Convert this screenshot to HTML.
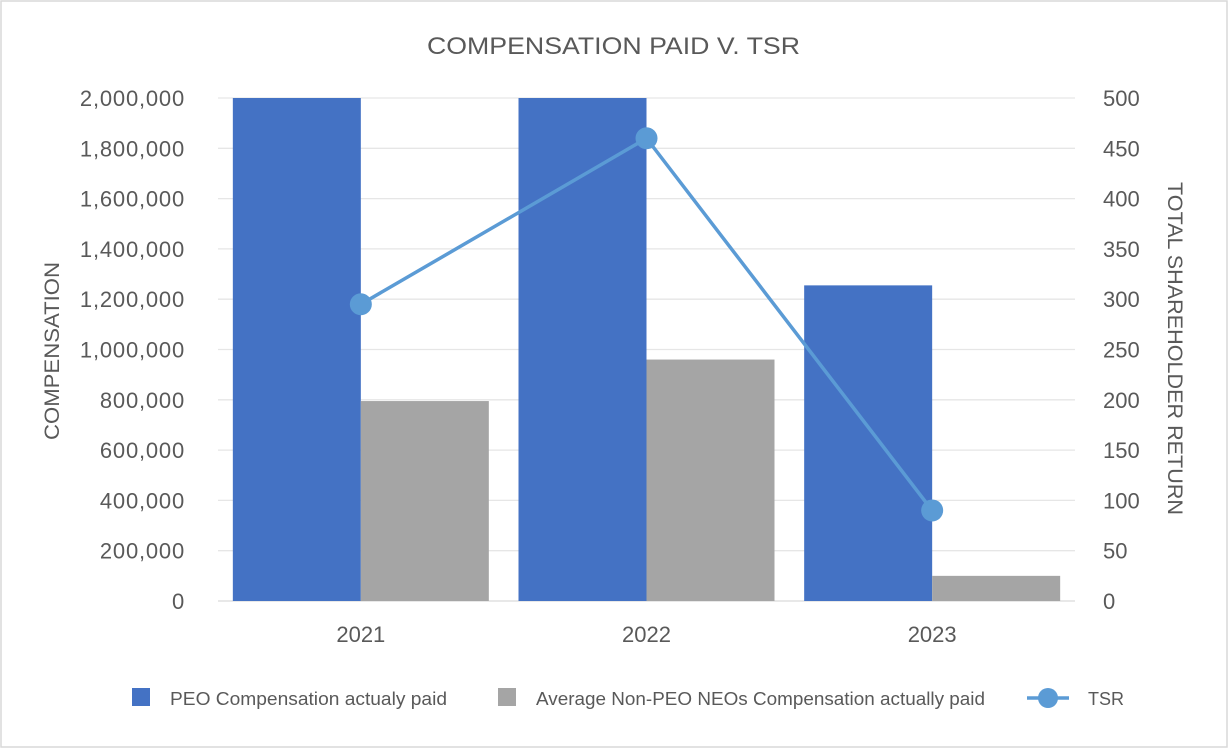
<!DOCTYPE html>
<html><head><meta charset="utf-8"><style>
body{margin:0;background:#fff;}
svg{display:block;font-family:"Liberation Sans",sans-serif;}
</style></head><body>
<svg id="chart" width="1228" height="748">
<rect x="1" y="1" width="1226" height="746" fill="#fff" stroke="#d9d9d9" stroke-width="1.5"/>
<text x="427" y="54" font-size="24" fill="#595959" textLength="373" lengthAdjust="spacingAndGlyphs">COMPENSATION PAID V. TSR</text>
<g id="grid"></g><g id="bars"></g><g id="line"></g><g id="axes"></g>
<text transform="translate(59,440) rotate(-90)" font-size="21" fill="#595959" textLength="178" lengthAdjust="spacingAndGlyphs">COMPENSATION</text>
<text transform="translate(1168,182) rotate(90)" font-size="21" fill="#595959" textLength="333" lengthAdjust="spacingAndGlyphs">TOTAL SHAREHOLDER RETURN</text>
<g>
<rect x="132" y="688" width="18" height="18" fill="#4472c4"/>
<text x="170" y="705" font-size="18" fill="#595959" textLength="277" lengthAdjust="spacingAndGlyphs">PEO Compensation actualy paid</text>
<rect x="498" y="688" width="18" height="18" fill="#a5a5a5"/>
<text x="536" y="705" font-size="18" fill="#595959" textLength="449" lengthAdjust="spacingAndGlyphs">Average Non-PEO NEOs Compensation actually paid</text>
<line x1="1027" y1="698" x2="1069" y2="698" stroke="#5b9bd5" stroke-width="3.5"/>
<circle cx="1048" cy="698" r="10" fill="#5b9bd5"/>
<text x="1088" y="705" font-size="18" fill="#595959">TSR</text>
</g>
</svg>
<script>
const categories=["2021","2022","2023"];
const peoValues=[2000000,2000000,1255000];
const neoValues=[795000,960000,100000];
const tsrValues=[295,460,90];
const leftTicks=[0,200000,400000,600000,800000,1000000,1200000,1400000,1600000,1800000,2000000];
const rightTicks=[0,50,100,150,200,250,300,350,400,450,500];
const NS="http://www.w3.org/2000/svg";
const L=218,R=1075,T=98,B=601,LMAX=2000000,RMAX=500;
const cw=(R-L)/categories.length;
const yL=v=>B-Math.min(v,LMAX)/LMAX*(B-T);
const yR=v=>B-v/RMAX*(B-T);
const xc=i=>L+cw*(i+0.5);
function mk(tag,attrs,parent,txt){const e=document.createElementNS(NS,tag);for(const k in attrs)e.setAttribute(k,attrs[k]);if(txt!=null)e.textContent=txt;document.getElementById(parent).appendChild(e);return e;}
leftTicks.forEach((t,i)=>{
 const y=yL(t);
 const g=mk("line",{x1:L,x2:R,y1:y,y2:y,stroke:i===0?"#d9d9d9":"#e6e6e6","stroke-width":1.3},"grid");
 
 
 const tx=mk("text",{x:185,y:y+8,"text-anchor":"end","font-size":22,fill:"#595959","letter-spacing":"0.8"},"axes",t.toLocaleString("en-US"));
 
 
});
rightTicks.forEach(t=>{
 const tx=mk("text",{x:1103,y:yR(t)+8,"font-size":22,fill:"#595959"},"axes",String(t));
 
 
});
const bw=128;
categories.forEach((c,i)=>{
 const x=xc(i);
 const b1=mk("rect",{x:x-bw,y:yL(peoValues[i]),width:bw,height:B-yL(peoValues[i]),fill:"#4472c4"},"bars");
 
 
 const b2=mk("rect",{x:x,y:yL(neoValues[i]),width:bw,height:B-yL(neoValues[i]),fill:"#a5a5a5"},"bars");
 
 
 const tx=mk("text",{x:x,y:642,"text-anchor":"middle","font-size":22,fill:"#595959"},"axes",c);
 
 
});
const pts=tsrValues.map((v,i)=>xc(i)+","+yR(v)).join(" ");
const pl=mk("polyline",{points:pts,fill:"none",stroke:"#5b9bd5","stroke-width":3.5},"line");


tsrValues.forEach((v,i)=>{
 const c=mk("circle",{cx:xc(i),cy:yR(v),r:11,fill:"#5b9bd5"},"line");
 
 
});
</script>
</body></html>
